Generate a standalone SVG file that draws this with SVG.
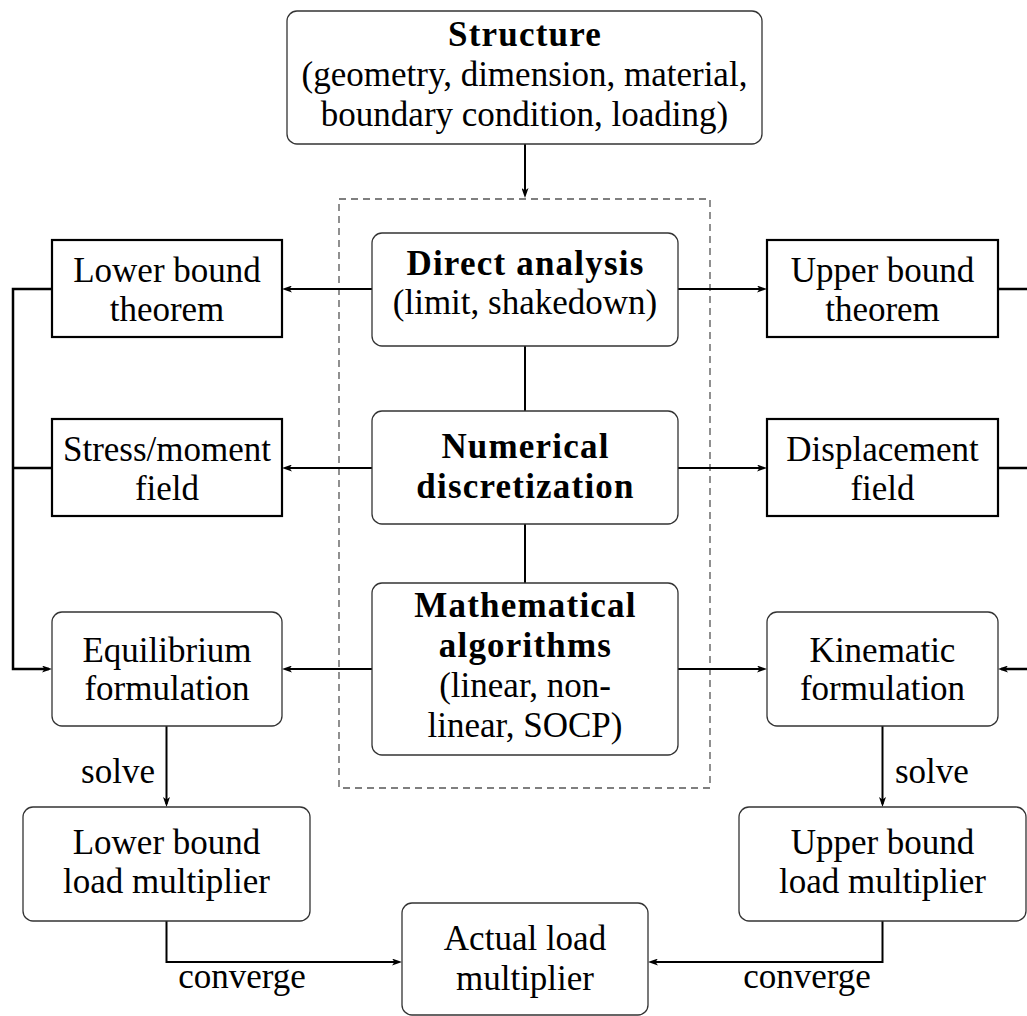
<svg xmlns="http://www.w3.org/2000/svg" width="1027" height="1016" viewBox="0 0 1027 1016">
<defs>
<style>
.t{font-family:"Liberation Serif","Times New Roman",serif;font-size:35px;fill:#000;text-anchor:middle}
.b{font-weight:bold;letter-spacing:1.2px}
.rb{fill:#fff;stroke:#333;stroke-width:1.3}
.sq{fill:#fff;stroke:#000;stroke-width:2.2}
.dash{fill:none;stroke:#555;stroke-width:1.3;stroke-dasharray:7 5}
.c{fill:none;stroke:#000;stroke-width:2}
.bus{fill:none;stroke:#000;stroke-width:2.5}
</style>
<marker id="arr" viewBox="0 0 10 7" refX="7" refY="3.5" markerWidth="10" markerHeight="7" markerUnits="userSpaceOnUse" orient="auto">
<path d="M0,0 L10,3.5 L0,7 L2.5,3.5 z" fill="#000"/>
</marker>
</defs>
<rect width="1027" height="1016" fill="#fff"/>

<rect id="analysis-frame" class="dash" x="339" y="199" width="371" height="589"/>

<g id="connectors">
<path class="c" d="M525,144 V195" marker-end="url(#arr)"/>
<path class="c" d="M525,346 V411"/>
<path class="c" d="M525,524 V583"/>
<path class="c" d="M372,289 H285" marker-end="url(#arr)"/>
<path class="c" d="M678,289 H764" marker-end="url(#arr)"/>
<path class="c" d="M372,468 H285" marker-end="url(#arr)"/>
<path class="c" d="M678,468 H764" marker-end="url(#arr)"/>
<path class="c" d="M372,669 H285" marker-end="url(#arr)"/>
<path class="c" d="M678,669 H764" marker-end="url(#arr)"/>
<path class="bus" d="M52,289 H13 V669 H49" marker-end="url(#arr)"/>
<path class="bus" d="M52,468 H13"/>
<path class="bus" d="M998,289 H1040 V669 H1001" marker-end="url(#arr)"/>
<path class="bus" d="M998,468 H1040"/>
<path class="c" d="M166.5,726 V804" marker-end="url(#arr)"/>
<path class="c" d="M882.5,726 V804" marker-end="url(#arr)"/>
<path class="c" d="M166.5,921 V962 H399" marker-end="url(#arr)"/>
<path class="c" d="M882.5,921 V962 H651" marker-end="url(#arr)"/>
<text class="t" x="155" y="783" style="text-anchor:end">solve</text>
<text class="t" x="895" y="783" style="text-anchor:start">solve</text>
<text class="t" x="242" y="988">converge</text>
<text class="t" x="807" y="988">converge</text>
</g>

<g id="structure">
<rect class="rb" x="287" y="11" width="475" height="133" rx="10"/>
<text class="t b" x="525" y="46">Structure</text>
<text class="t" x="524.5" y="86">(geometry, dimension, material,</text>
<text class="t" x="524.5" y="126">boundary condition, loading)</text>
</g>

<g id="direct-analysis">
<rect class="rb" x="372" y="233" width="306" height="113" rx="10"/>
<text class="t b" x="525.5" y="275">Direct analysis</text>
<text class="t" x="525" y="314">(limit, shakedown)</text>
</g>

<g id="numerical-discretization">
<rect class="rb" x="372" y="411" width="306" height="113" rx="10"/>
<text class="t b" x="525.5" y="458">Numerical</text>
<text class="t b" x="525.5" y="498">discretization</text>
</g>

<g id="mathematical-algorithms">
<rect class="rb" x="372" y="583" width="306" height="172" rx="10"/>
<text class="t b" x="525.5" y="617">Mathematical</text>
<text class="t b" x="525.5" y="657">algorithms</text>
<text class="t" x="525" y="697">(linear, non-</text>
<text class="t" x="525" y="737">linear, SOCP)</text>
</g>

<g id="lower-bound-theorem">
<rect class="sq" x="52" y="240" width="230" height="97"/>
<text class="t" x="167" y="282">Lower bound</text>
<text class="t" x="167" y="321">theorem</text>
</g>

<g id="stress-moment-field">
<rect class="sq" x="52" y="419" width="230" height="97"/>
<text class="t" x="167" y="461">Stress/moment</text>
<text class="t" x="167" y="500">field</text>
</g>

<g id="upper-bound-theorem">
<rect class="sq" x="767" y="240" width="231" height="97"/>
<text class="t" x="882.5" y="282">Upper bound</text>
<text class="t" x="882.5" y="321">theorem</text>
</g>

<g id="displacement-field">
<rect class="sq" x="767" y="419" width="231" height="97"/>
<text class="t" x="882.5" y="461">Displacement</text>
<text class="t" x="882.5" y="500">field</text>
</g>

<g id="equilibrium-formulation">
<rect class="rb" x="52" y="612" width="230" height="114" rx="10"/>
<text class="t" x="167" y="662">Equilibrium</text>
<text class="t" x="167" y="700">formulation</text>
</g>

<g id="kinematic-formulation">
<rect class="rb" x="767" y="612" width="231" height="114" rx="10"/>
<text class="t" x="882.5" y="662">Kinematic</text>
<text class="t" x="882.5" y="700">formulation</text>
</g>

<g id="lower-bound-load-multiplier">
<rect class="rb" x="23" y="807" width="287" height="114" rx="10"/>
<text class="t" x="166.5" y="854">Lower bound</text>
<text class="t" x="166.5" y="893">load multiplier</text>
</g>

<g id="upper-bound-load-multiplier">
<rect class="rb" x="739" y="807" width="287" height="114" rx="10"/>
<text class="t" x="882.5" y="854">Upper bound</text>
<text class="t" x="882.5" y="893">load multiplier</text>
</g>

<g id="actual-load-multiplier">
<rect class="rb" x="402" y="903" width="246" height="112" rx="10"/>
<text class="t" x="525" y="950">Actual load</text>
<text class="t" x="525" y="990">multiplier</text>
</g>
</svg>
